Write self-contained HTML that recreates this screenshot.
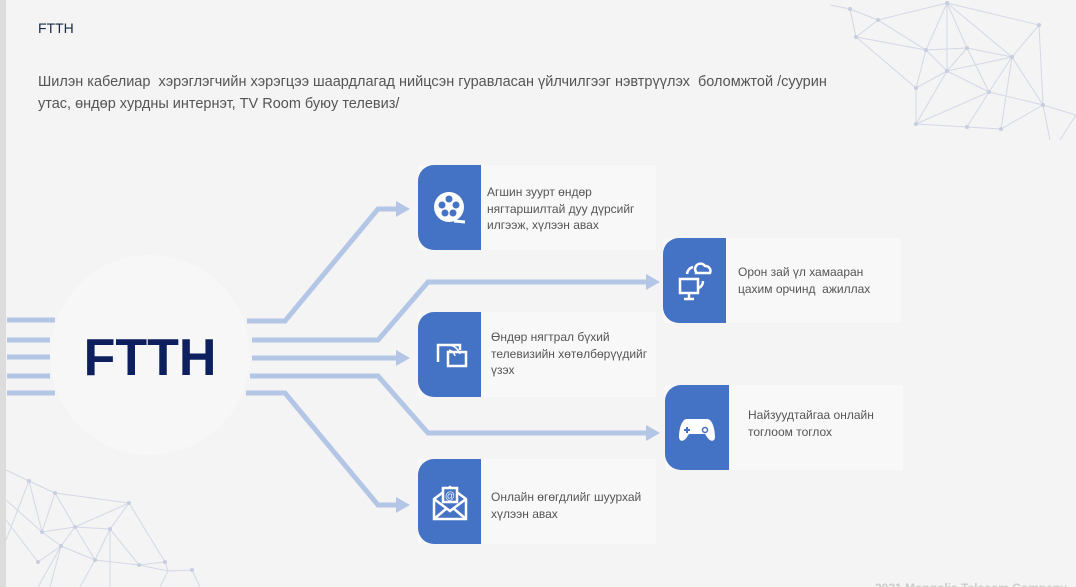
<!DOCTYPE html>
<html><head><meta charset="utf-8"><style>
body{margin:0;width:1076px;height:587px;overflow:hidden;background:#f4f4f4;font-family:"Liberation Sans","DejaVu Sans",sans-serif;position:relative}
.strip{position:absolute;left:0;top:0;width:6px;height:587px;background:#dcdcdc}
.title{position:absolute;left:38px;top:20px;font-size:14px;color:#1a2a4a}
.desc{position:absolute;left:38px;top:71px;font-size:14.5px;color:#555;line-height:22px;width:900px;white-space:nowrap}
.card{position:absolute;width:238px;height:85px;background:#f8f8f8}
.blk{position:absolute;left:0;top:0;width:63px;height:85px;background:#4472c4;border-radius:16px 0 0 16px}
.txt{position:absolute;font-size:12px;color:#555;line-height:16.5px;white-space:nowrap}
svg{position:absolute;left:0;top:0}
</style></head><body>
<div class="strip"></div>
<div class="title">FTTH</div>
<div class="desc">Шилэн кабелиар &nbsp;хэрэглэгчийн хэрэгцээ шаардлагад нийцсэн гуравласан үйлчилгээг нэвтрүүлэх &nbsp;боломжтой /суурин<br>утас, өндөр хурдны интернэт, TV Room буюу телевиз/</div>
<svg width="1076" height="587">
<g stroke="#d3d8e6" stroke-width="1" fill="none">
<path d="M850,9L878,20L856,37L850,9M878,20L947,3L926,50L878,20M856,37L926,50L916,88L856,37M947,3L967,48L926,50M947,3L947,71L926,50M947,3L1039,25L1012,57L947,3M967,48L1012,57L989,92L967,48M967,48L947,71L1012,57M1039,25L1012,57L1043,105L1039,25M926,50L916,88L947,71L989,92L916,124L916,88M947,71L916,124M989,92L967,127L1001,129L1012,57M916,124L967,127L1001,129L1043,105L1076,115M989,92L1043,105M1043,105L1050,140M1076,115L1060,140M830,5L850,9"/>
<path d="M6,470L29,481L55,493L129,503L110,529L75,527L55,493L42,532L29,481M55,493L75,527L42,532M129,503L75,527M129,503L165,562L139,565L110,529L129,503M42,532L61,546L38,562M75,527L61,546L95,560L75,527M110,529L95,560L139,565M61,546L38,587M61,546L50,587M95,560L80,587M139,565L168,571L192,570L200,587M165,562L168,571L160,587M110,529L110,587M6,500L42,532M6,520L38,562M6,540L29,481"/>
</g>
<g fill="#c7cee0">
<circle cx="850" cy="9" r="2"/><circle cx="878" cy="20" r="2"/><circle cx="856" cy="37" r="2"/><circle cx="947" cy="3" r="2"/><circle cx="926" cy="50" r="2"/><circle cx="967" cy="48" r="2"/><circle cx="1039" cy="25" r="2"/><circle cx="947" cy="71" r="2"/><circle cx="1012" cy="57" r="2"/><circle cx="916" cy="88" r="2"/><circle cx="989" cy="92" r="2"/><circle cx="916" cy="124" r="2"/><circle cx="967" cy="127" r="2"/><circle cx="1001" cy="129" r="2"/><circle cx="1043" cy="105" r="2"/>
<circle cx="29" cy="481" r="2"/><circle cx="55" cy="493" r="2"/><circle cx="129" cy="503" r="2"/><circle cx="42" cy="532" r="2"/><circle cx="75" cy="527" r="2"/><circle cx="110" cy="529" r="2"/><circle cx="61" cy="546" r="2"/><circle cx="95" cy="560" r="2"/><circle cx="38" cy="562" r="2"/><circle cx="139" cy="565" r="2"/><circle cx="165" cy="562" r="2"/><circle cx="192" cy="570" r="2"/>
</g>
<circle cx="150" cy="355" r="100" fill="#f7f7f7"/>
<g stroke="#b4c6e6" stroke-width="5" fill="none">
<path d="M7,320H55M7,340H50M7,357H50M7,376H50M7,393H55"/>
<path d="M247,321H285L378,209H398"/>
<path d="M252,340H378L428,282H648"/>
<path d="M252,358H398"/>
<path d="M250,376H378L428,433H648"/>
<path d="M246,393H285L378,505H398"/>
</g>
<g fill="#b4c6e6">
<path d="M396,201L410,209L396,217Z"/><path d="M646,274L660,282L646,290Z"/><path d="M396,350L410,358L396,366Z"/><path d="M646,425L660,433L646,441Z"/><path d="M396,497L410,505L396,513Z"/>
</g>
<text x="150" y="375" text-anchor="middle" font-family="Liberation Sans,sans-serif" font-weight="bold" font-size="52" fill="#0d1f5c">FTTH</text>
<text x="875" y="592" font-size="12" fill="#ccc" font-weight="bold">2021 Mongolia Telecom Company</text>
</svg>
<div class="card" style="left:418px;top:165px"><div class="blk"></div>
<svg width="63" height="85" style="left:0;top:0"><circle cx="31" cy="42" r="15" fill="#fff"/><g fill="#4472c4"><circle cx="31" cy="34" r="3.5"/><circle cx="24" cy="40" r="3.5"/><circle cx="38" cy="40" r="3.5"/><circle cx="27" cy="48" r="3.5"/><circle cx="35" cy="48" r="3.5"/></g><path d="M36,56L47,57" stroke="#fff" stroke-width="3"/></svg>
<div class="txt" style="left:69px;top:19px">Агшин зуурт өндөр<br>нягтаршилтай дуу дүрсийг<br>илгээж, хүлээн авах</div></div>
<div class="card" style="left:663px;top:238px"><div class="blk"></div>
<svg width="63" height="85" style="left:0;top:0" fill="none" stroke="#fff" stroke-width="2.5"><rect x="17" y="41" width="18" height="14"/><path d="M26,55V60M21,61H31"/><path d="M33,34a5,5 0 0 1 9,-6a5,5 0 0 1 5,7H33Z"/><path d="M24,36a8,8 0 0 1 6,-7M40,43a8,8 0 0 1 -4,7"/></svg>
<div class="txt" style="left:75px;top:26px">Орон зай үл хамааран<br>цахим орчинд &nbsp;ажиллах</div></div>
<div class="card" style="left:418px;top:312px"><div class="blk"></div>
<svg width="63" height="85" style="left:0;top:0" fill="none" stroke="#fff" stroke-width="2.5"><path d="M20,50V33H42V38"/><rect x="30" y="40" width="18" height="14"/><path d="M31,38a8,8 0 0 1 6,6M31,33a13,13 0 0 1 11,9" stroke-width="1.5"/></svg>
<div class="txt" style="left:73px;top:17px">Өндөр нягтрал бүхий<br>телевизийн хөтөлбөрүүдийг<br>үзэх</div></div>
<div class="card" style="left:665px;top:385px"><div class="blk" style="width:64px"></div>
<svg width="64" height="85" style="left:0;top:0"><path d="M22,34H42C48,34 50,46 50,52C50,56 46,58 42,52L40,49H24L22,52C18,58 14,56 14,52C14,46 16,34 22,34Z" fill="#fff"/><path d="M22,42V48M19,45H25" stroke="#4472c4" stroke-width="2"/><circle cx="40" cy="45" r="2.5" fill="none" stroke="#4472c4" stroke-width="1.5"/></svg>
<div class="txt" style="left:83px;top:22px">Найзуудтайгаа онлайн<br>тоглоом тоглох</div></div>
<div class="card" style="left:418px;top:459px"><div class="blk"></div>
<svg width="63" height="85" style="left:0;top:0" fill="none" stroke="#fff" stroke-width="2.5"><path d="M16,40V60H48V40L32,28Z"/><path d="M16,60L29,49M48,60L35,49M16,40L32,52L48,40"/><rect x="25" y="29" width="14" height="14" fill="#4472c4"/><text x="32" y="40" font-size="10" fill="#fff" stroke="none" text-anchor="middle">@</text></svg>
<div class="txt" style="left:73px;top:30px">Онлайн өгөгдлийг шуурхай<br>хүлээн авах</div></div>
</body></html>
